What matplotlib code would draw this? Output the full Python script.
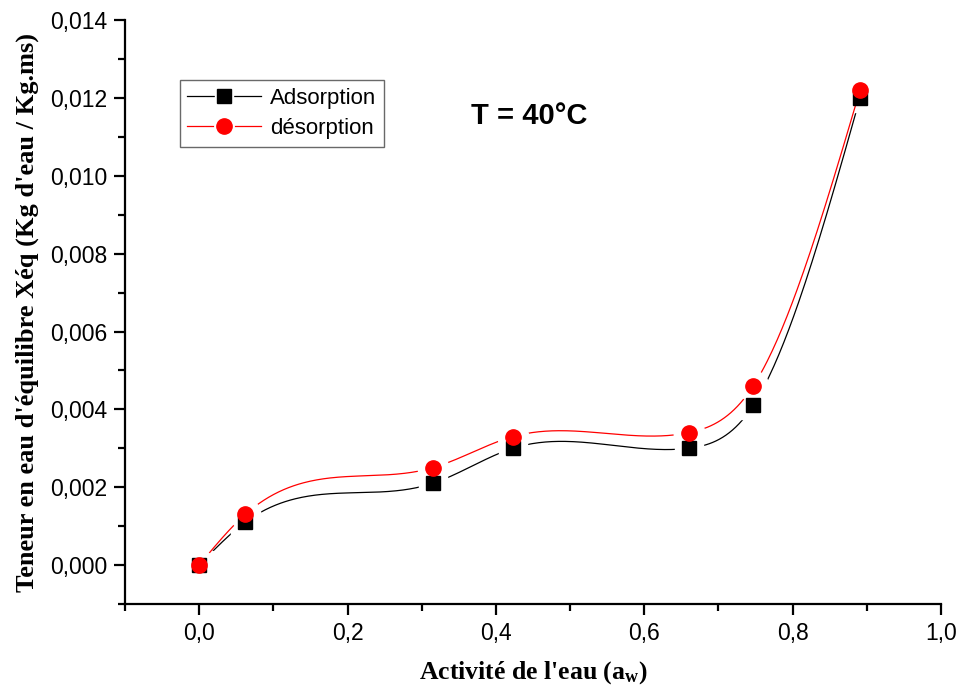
import numpy as np
import matplotlib
matplotlib.use("Agg")
import matplotlib.pyplot as plt
from matplotlib.ticker import MultipleLocator, FuncFormatter
from matplotlib.lines import Line2D
from matplotlib.legend_handler import HandlerTuple

# donnees
aw = [0.0, 0.062, 0.315, 0.423, 0.66, 0.747, 0.891]
adsorption = [0.0, 0.0011, 0.0021, 0.0030, 0.0030, 0.0041, 0.0120]
desorption = [0.0, 0.0013, 0.0025, 0.0033, 0.0034, 0.0046, 0.0122]


def spline(x, y, n=400):
    # spline cubique naturelle
    x = np.asarray(x, float)
    y = np.asarray(y, float)
    m = len(x)
    h = np.diff(x)
    A = np.zeros((m, m))
    b = np.zeros(m)
    A[0, 0] = A[-1, -1] = 1
    for i in range(1, m - 1):
        A[i, i - 1] = h[i - 1]
        A[i, i] = 2 * (h[i - 1] + h[i])
        A[i, i + 1] = h[i]
        b[i] = 6 * ((y[i + 1] - y[i]) / h[i] - (y[i] - y[i - 1]) / h[i - 1])
    M = np.linalg.solve(A, b)
    xs = np.linspace(x[0], x[-1], n)
    ys = np.empty_like(xs)
    for k, xv in enumerate(xs):
        i = min(np.searchsorted(x, xv, side="right") - 1, m - 2)
        t1 = x[i + 1] - xv
        t0 = xv - x[i]
        ys[k] = (M[i] * t1 ** 3 + M[i + 1] * t0 ** 3) / (6 * h[i]) \
            + (y[i] / h[i] - M[i] * h[i] / 6) * t1 \
            + (y[i + 1] / h[i] - M[i + 1] * h[i] / 6) * t0
    return xs, ys


plt.rcParams['font.family'] = ['Liberation Sans', 'DejaVu Sans']
plt.rcParams['mathtext.fontset'] = 'custom'
plt.rcParams['mathtext.rm'] = 'Liberation Serif:bold'
plt.rcParams['mathtext.bf'] = 'Liberation Serif:bold'
plt.rcParams['mathtext.it'] = 'Liberation Serif:bold'

fig = plt.figure(figsize=(9.62, 6.95), dpi=100)
ax = fig.add_axes([0.130, 0.131, 0.848, 0.840])

# lignes avec un petit blanc autour des symboles (style Origin)
xs, ys = spline(aw, adsorption)
ax.plot(xs, ys, color='black', lw=0.9, zorder=1)
ax.plot(aw, adsorption, 's', color='white', ms=20, zorder=2)
xs, ys = spline(aw, desorption)
ax.plot(xs, ys, color='red', lw=0.9, zorder=3)
ax.plot(aw, desorption, 'o', color='white', ms=22, zorder=4)
ax.plot(aw, adsorption, 's', color='black', ms=9.5, zorder=5)
ax.plot(aw, desorption, 'o', color='red', ms=11, zorder=6)

# legende
h1 = (Line2D([], [], color='black', lw=0.9),
      Line2D([], [], ls='none', marker='s', color='white', ms=13),
      Line2D([], [], ls='none', marker='s', color='black', ms=9.5))
h2 = (Line2D([], [], color='red', lw=0.9),
      Line2D([], [], ls='none', marker='o', color='white', ms=14),
      Line2D([], [], ls='none', marker='o', color='red', ms=11))
leg = ax.legend([h1, h2], ['Adsorption', 'désorption'], loc='upper left',
                handler_map={tuple: HandlerTuple(ndivide=1, pad=0)},
                bbox_to_anchor=(0.067, 0.897), fontsize=16, frameon=True,
                fancybox=False, edgecolor='#444444', handlelength=3.3,
                borderpad=0.35, labelspacing=0.4, handletextpad=0.4,
                borderaxespad=0)
leg.get_frame().set_linewidth(1.0)

ax.text(0.367, 0.01153, 'T = 40°C', fontsize=21, fontweight='bold', ha='left', va='center')

ax.set_xlim(-0.1, 1.0)
ax.set_ylim(-0.001, 0.014)
ax.xaxis.set_major_locator(MultipleLocator(0.2))
ax.xaxis.set_minor_locator(MultipleLocator(0.1))
ax.yaxis.set_major_locator(MultipleLocator(0.002))
ax.yaxis.set_minor_locator(MultipleLocator(0.001))
ax.xaxis.set_major_formatter(FuncFormatter(lambda v, p: ('%.1f' % v).replace('.', ',')))
ax.yaxis.set_major_formatter(FuncFormatter(lambda v, p: ('%.3f' % v).replace('.', ',')))

for s in ['top', 'right']:
    ax.spines[s].set_visible(False)
for s in ['left', 'bottom']:
    ax.spines[s].set_linewidth(1.6)
ax.tick_params(which='major', direction='out', length=8, width=1.6, labelsize=16.5, pad=5)
ax.tick_params(which='minor', direction='out', length=5, width=1.6)

ax.set_xlabel("Activité de l'eau (a$_{\\mathbf{w}}$)", fontsize=18.5,
              fontfamily='Liberation Serif', fontweight='bold', labelpad=10)
ax.set_ylabel("Teneur en eau d'équilibre Xéq (Kg d'eau / Kg.ms)", fontsize=19,
              fontfamily='Liberation Serif', fontweight='bold', labelpad=8)

fig.savefig('out.png', dpi=100)
